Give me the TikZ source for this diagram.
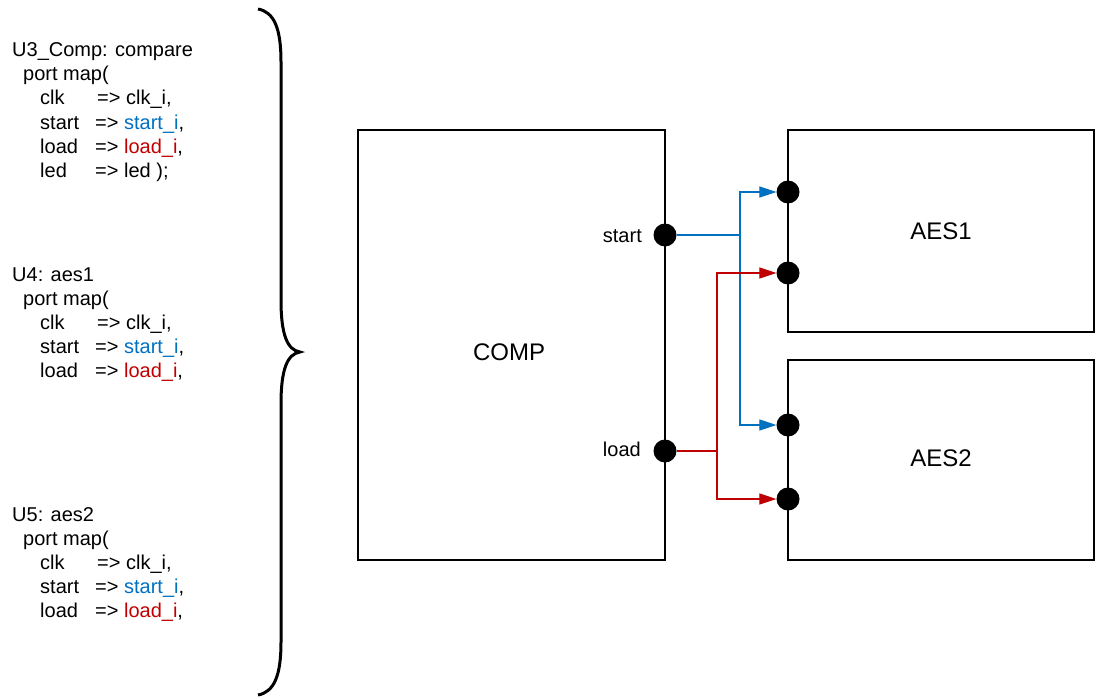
\documentclass[tikz,border=0pt]{standalone}
\usepackage{fontspec}
\setmainfont{Liberation Sans}
\usetikzlibrary{arrows.meta}
\usetikzlibrary{calc}
\definecolor{startblue}{RGB}{0,112,192}
\definecolor{loadred}{RGB}{192,0,0}

\begin{document}
\begin{tikzpicture}[x=1pt,y=-1pt,>={Triangle[length=17pt,width=11pt]},
		block/.style={draw,line width=1.6pt,inner sep=0pt},
		blocklabel/.style={anchor=base,inner sep=0pt,font=\fontsize{24}{28}\selectfont},
		code/.style={anchor=base west,inner sep=0pt,font=\fontsize{20}{24}\selectfont},
		portdot/.style={circle,fill=black,minimum size=23pt,inner sep=0pt},
		portlabel/.style={anchor=base east,inner sep=0pt,font=\fontsize{20}{24}\selectfont},
		wire/.style={line width=1.2pt}]
		
		\useasboundingbox (0,0) rectangle (1099,698);
		
		%--- Port maps (VHDL text) ---
		% U3
		\node[code] (u3head) at (12,57) {U3\_Comp: compare};
		\node[code] (u3map) at (23,81) {port map(};
		\node[code] (u3clk) at (40,105) {clk};
		\node[code] (u3clkval) at (97,105) {=> clk\_i,};
		\node[code] (u3start) at (40,129) {start};
		\node[code] (u3startval) at (95,129) {=> \textcolor{startblue}{start\_i},};
		\node[code] (u3load) at (40,153) {load};
		\node[code] (u3loadval) at (95,153) {=> \textcolor{loadred}{load\_i},};
		\node[code] (u3led) at (40,177) {led};
		\node[code] (u3ledval) at (95,177) {=> led );};
		
		% U4
		\node[code] (u4head) at (12,281) {U4: aes1};
		\node[code] (u4map) at (23,305) {port map(};
		\node[code] (u4clk) at (40,329) {clk};
		\node[code] (u4clkval) at (97,329) {=> clk\_i,};
		\node[code] (u4start) at (40,353) {start};
		\node[code] (u4startval) at (95,353) {=> \textcolor{startblue}{start\_i},};
		\node[code] (u4load) at (40,377) {load};
		\node[code] (u4loadval) at (95,377) {=> \textcolor{loadred}{load\_i},};
		
		% U5
		\node[code] (u5head) at (12,521) {U5: aes2};
		\node[code] (u5map) at (23,545) {port map(};
		\node[code] (u5clk) at (40,569) {clk};
		\node[code] (u5clkval) at (97,569) {=> clk\_i,};
		\node[code] (u5start) at (40,593) {start};
		\node[code] (u5startval) at (95,593) {=> \textcolor{startblue}{start\_i},};
		\node[code] (u5load) at (40,617) {load};
		\node[code] (u5loadval) at (95,617) {=> \textcolor{loadred}{load\_i},};
		
		%--- Brace ---
		\draw[line width=3pt] (258,9) .. controls (274,12) and (281,28) .. (281,62)
			-- (281,300) .. controls (281,334) and (287,350) .. (300,352)
			.. controls (287,354) and (281,370) .. (281,404)
			-- (281,642) .. controls (281,676) and (274,692) .. (258,695);
		
		%--- Blocks ---
		\node[block,minimum width=307pt,minimum height=430pt] (comp) at (511.5,345) {};
		\node[block,minimum width=306pt,minimum height=202pt] (aes1) at (941,231) {};
		\node[block,minimum width=306pt,minimum height=200pt] (aes2) at (941,460) {};
		\node[blocklabel] (complbl) at (509,360) {COMP};
		\node[blocklabel] (aes1lbl) at (941,239) {AES1};
		\node[blocklabel] (aes2lbl) at (941,466) {AES2};
		
		%--- Ports ---
		\node[portdot] (pstart) at (665,235) {};
		\node[portdot] (pload) at (665,451) {};
		\node[portdot] (a1start) at (788,192) {};
		\node[portdot] (a1load) at (788,273) {};
		\node[portdot] (a2start) at (788,425) {};
		\node[portdot] (a2load) at (788,499) {};
		\node[portlabel] (startlbl) at (642,242) {start};
		\node[portlabel] (loadlbl) at (641,456) {load};
		
		%--- Wires ---
		\coordinate (bsplit) at (740,235);
		\coordinate (rsplit) at (717,451);
		
		% start goes to both AES blocks
		\draw[wire,startblue] (pstart) -- (bsplit);
		\draw[wire,startblue,->] (bsplit) |- (a1start);
		\draw[wire,startblue,->] (bsplit) |- (a2start);
		
		% load goes to both AES blocks
		\draw[wire,loadred] (pload) -- (rsplit);
		\draw[wire,loadred,->] (rsplit) |- (a1load);
		\draw[wire,loadred,->] (rsplit) |- (a2load);
		
	\end{tikzpicture}
\end{document}
